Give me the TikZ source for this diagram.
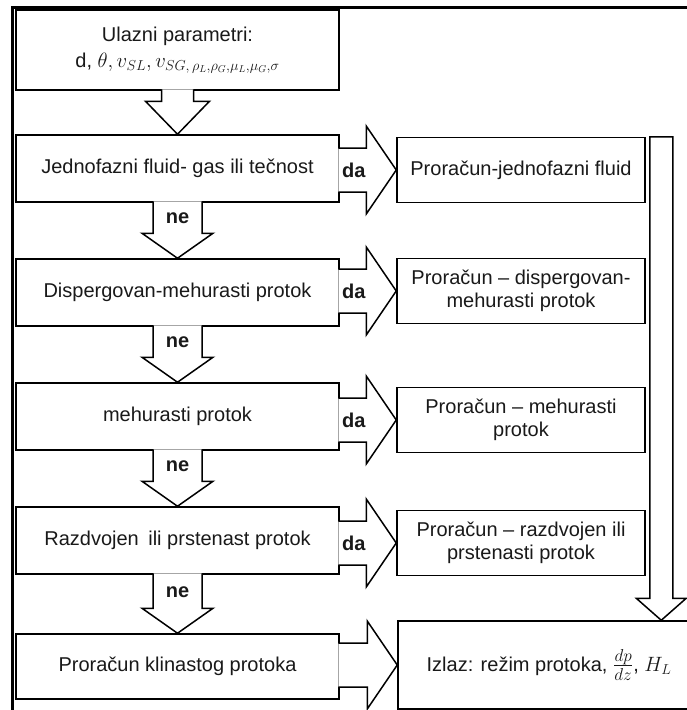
\documentclass[tikz,border=0pt]{standalone}
\usepackage{fontspec}
\setmainfont{Liberation Sans}
\usetikzlibrary{calc}
\tikzset{
  txt/.style={font=\fontsize{20}{23}\selectfont, text=black!90},
  lbox/.style={draw, line width=1.5pt, minimum width=323pt, minimum height=67pt, inner sep=0pt, align=center, txt},
  rbox/.style={draw, line width=1.5pt, minimum width=248pt, minimum height=65pt, inner sep=0pt, align=center, txt},
  barrow/.style={draw, line width=1.5pt, fill=white, line join=miter},
  lab/.style={font=\fontsize{20}{23}\selectfont\bfseries, inner sep=0pt, text=black!90},
  frame/.style={line width=2.8pt},
}
% down block arrow: from, to, shaft half width, head half width, head length
\newcommand\dnblock[5]{%
  \draw[barrow] ($(#1.south)+(-#3,-1.5)$) -- ($(#2.north)+(-#3,-#5)$) -- ($(#2.north)+(-#4,-#5)$) -- (#2.north)
    -- ($(#2.north)+(#4,-#5)$) -- ($(#2.north)+(#3,-#5)$) -- ($(#1.south)+(#3,-1.5)$);}
% right block arrow: from, to
\newcommand\rtblock[2]{%
  \draw[barrow] ($(#1.east |- #2.west)+(-1.5,-22)$) -- ($(#2.west)+(-30,-22)$) -- ($(#2.west)+(-30,-44)$) -- (#2.west)
    -- ($(#2.west)+(-30,44)$) -- ($(#2.west)+(-30,22)$) -- ($(#1.east |- #2.west)+(-1.5,22)$);}
\begin{document}
\begin{tikzpicture}[x=1pt,y=-1pt]
\useasboundingbox (0,0) rectangle (687,710);
\clip (0,0) rectangle (687,710);
% frame
\draw[frame] (12.5,712) -- (12.5,7.5) -- (690,7.5);
% left column
\node[lbox, minimum height=80pt] (in) at (177.5,50) {\raisebox{0pt}{Ulazni parametri:}\\[3pt] d, $\theta, v_{SL}, v_{SG,\,\rho_L,\rho_G,\mu_L,\mu_G,\sigma}$};
\node[lbox] (q1) at (177.5,168.5) {Jednofazni fluid- gas ili tečnost};
\node[lbox] (q2) at (177.5,292.5) {Dispergovan-mehurasti protok};
\node[lbox] (q3) at (177.5,416.5) {mehurasti protok};
\node[lbox] (q4) at (177.5,540.5) {Razdvojen\hspace{0.2em} ili prstenast protok};
\node[lbox, minimum height=65pt] (q5) at (177.5,666.5) {Proračun klinastog protoka};
% right column
\node[rbox] (r1) at (521,170) {Proračun-jednofazni fluid};
\node[rbox] (r2) at (521,291) {Proračun – dispergovan-\\mehurasti protok};
\node[rbox] (r3) at (521,420) {Proračun – mehurasti\\protok};
\node[rbox] (r4) at (521,543) {Proračun – razdvojen ili\\prstenasti protok};
\node[draw, line width=1.5pt, minimum width=302pt, minimum height=88pt, inner sep=0pt, txt] (out) at (549,665)
  {Izlaz: režim protoka, \raisebox{-0.5pt}{\scalebox{1.2}{$\frac{dp}{dz}$}}, $H_L$};
% down arrows
\dnblock{in}{q1}{16}{32}{33}
\dnblock{q1}{q2}{24.5}{35.5}{25}
\dnblock{q2}{q3}{24.5}{35.5}{25}
\dnblock{q3}{q4}{24.5}{35.5}{25}
\dnblock{q4}{q5}{24.5}{35.5}{25}
\node[lab] at ($(q1.south)!0.5!(q2.north)+(0,-12)$) {ne};
\node[lab] at ($(q2.south)!0.5!(q3.north)+(0,-12)$) {ne};
\node[lab] at ($(q3.south)!0.5!(q4.north)+(0,-12)$) {ne};
\node[lab] at ($(q4.south)!0.5!(q5.north)+(0,-12)$) {ne};
% right arrows
\rtblock{q1}{r1}
\rtblock{q2}{r2}
\rtblock{q3}{r3}
\rtblock{q4}{r4}
\rtblock{q5}{out}
\node[lab] at ($(q1.east |- r1.west)+(14,0)$) {da};
\node[lab] at ($(q2.east |- r2.west)+(14,0)$) {da};
\node[lab] at ($(q3.east |- r3.west)+(14,0)$) {da};
\node[lab] at ($(q4.east |- r4.west)+(14,0)$) {da};
% collecting arrow
\coordinate (vt) at ($(r1.north east)+(15.5,0)$);
\coordinate (vtip) at (vt |- out.north);
\draw[barrow] ($(vt)+(-11.5,0)$) -- ($(vtip)+(-11.5,-22)$) -- ($(vtip)+(-25,-22)$) -- (vtip)
  -- ($(vtip)+(25,-22)$) -- ($(vtip)+(11.5,-22)$) -- ($(vt)+(11.5,0)$) -- cycle;
\end{tikzpicture}
\end{document}
